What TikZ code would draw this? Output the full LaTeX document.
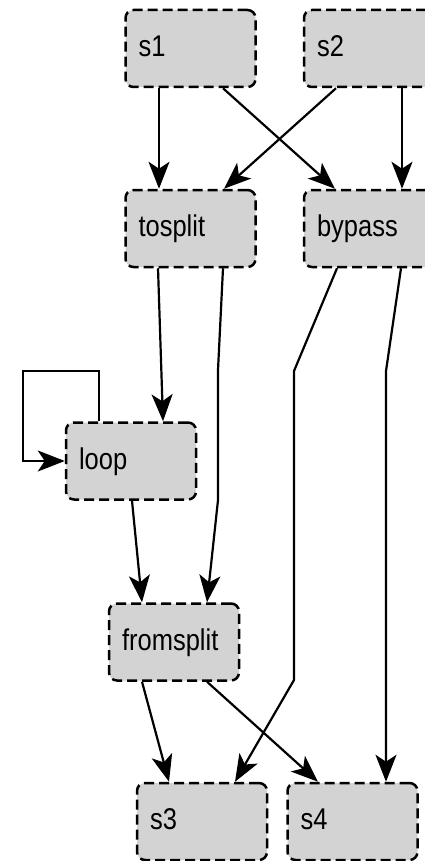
\documentclass[tikz,border=0pt]{standalone}
\usepackage{fontspec}
\setmainfont{Liberation Sans}[FakeStretch=0.85]
\usetikzlibrary{arrows.meta}
\definecolor{boxgray}{HTML}{D3D3D3}
\tikzset{
  stage/.style={draw=black, fill=boxgray, line width=2.5pt,
    dash pattern=on 10pt off 5pt, rounded corners=8pt,
    minimum height=77pt, text width=104pt, inner xsep=13pt,
    text height=22pt, text depth=5.6pt,
    align=left, font=\fontsize{30}{34}\selectfont},
  flow/.style={line width=2.2pt, -{Stealth[length=27pt, width=21pt, inset=7pt]}},
}
\begin{document}
\begin{tikzpicture}[x=1pt, y=-1pt]
\useasboundingbox (0,0) rectangle (424,861);

% stages
\node[stage] (s1)        at (190.5,48.5)  {s1};
\node[stage] (s2)        at (369,48.5)    {s2};
\node[stage] (tosplit)   at (190.5,228.5) {tosplit};
\node[stage] (bypass)    at (369,228.5)   {bypass};
\node[stage] (loop)      at (131,461)     {loop};
\node[stage] (fromsplit) at (174,642)     {fromsplit};
\node[stage] (s3)        at (202,821.5)   {s3};
\node[stage] (s4)        at (352.5,821.5) {s4};

% bend points of the routed connectors
\coordinate (tf1) at (218,370);
\coordinate (tf2) at (218,500);
\coordinate (lp1) at (99,371);
\coordinate (lp2) at (23,371);
\coordinate (lp3) at (23,461);
\coordinate (b31) at (294,371);
\coordinate (b32) at (294,680);
\coordinate (b41) at (386,371);

% connectors
\draw[flow] ([xshift=-31.5pt]s1.south) -- ([xshift=-31.5pt]tosplit.north);
\draw[flow] ([xshift=32.5pt]s1.south) -- ([xshift=-34pt]bypass.north);
\draw[flow] ([xshift=-33pt]s2.south) -- ([xshift=33.5pt]tosplit.north);
\draw[flow] ([xshift=33pt]s2.south) -- ([xshift=33pt]bypass.north);
\draw[flow] ([xshift=-32.5pt]tosplit.south) -- ([xshift=32pt]loop.north);
\draw[flow] ([xshift=32.5pt]tosplit.south) -- (tf1) -- (tf2) -- ([xshift=33pt]fromsplit.north);
\draw[flow] ([xshift=1pt]loop.south) -- ([xshift=-32pt]fromsplit.north);
\draw[flow] ([xshift=-32pt]loop.north) -- (lp1) -- (lp2) -- (lp3) -- (loop.west);
\draw[flow] ([xshift=-32pt]bypass.south) -- (b31) -- (b32) -- ([xshift=33pt]s3.north);
\draw[flow] ([xshift=32pt]bypass.south) -- (b41) -- ([xshift=33.5pt]s4.north);
\draw[flow] ([xshift=-32pt]fromsplit.south) -- ([xshift=-33pt]s3.north);
\draw[flow] ([xshift=33pt]fromsplit.south) -- ([xshift=-34.5pt]s4.north);
\end{tikzpicture}
\end{document}
